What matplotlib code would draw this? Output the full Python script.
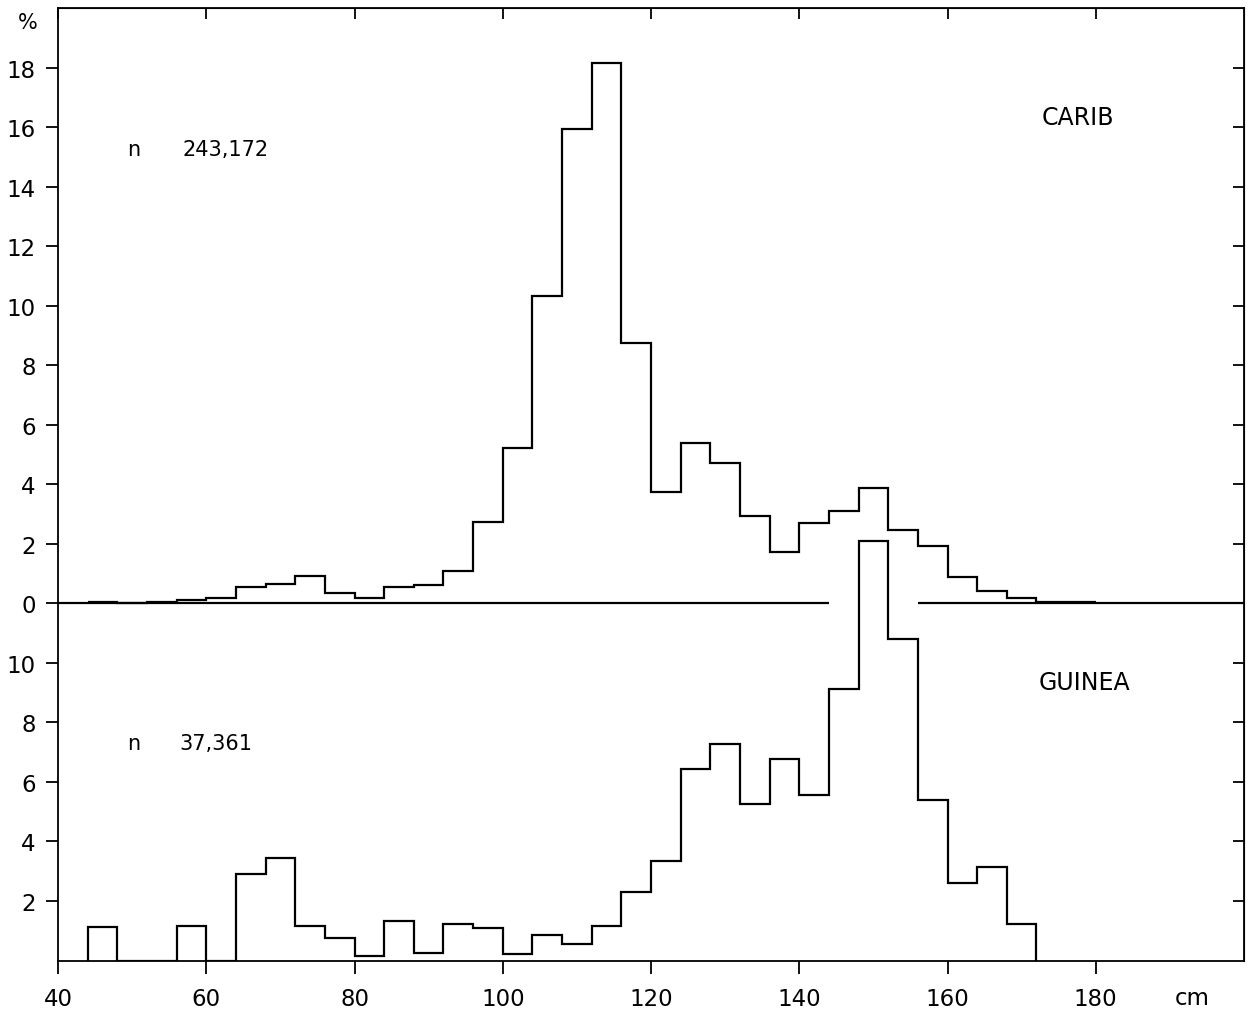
"""Length-frequency histograms, Carib vs Guinea samples (stacked on one frame)."""
import numpy as np
import matplotlib.pyplot as plt

# 4 cm length classes
CARIB_EDGES = np.arange(44, 184, 4)
CARIB_PCT = [0.05, 0.0, 0.03, 0.10, 0.18, 0.56, 0.66, 0.92, 0.33, 0.19,
             0.54, 0.61, 1.07, 2.73, 5.23, 10.32, 15.95, 18.15, 8.75, 3.75,
             5.38, 4.71, 2.93, 1.71, 2.71, 3.11, 3.89, 2.45, 1.93, 0.88,
             0.41, 0.19, 0.06, 0.06]

GUINEA_EDGES = np.arange(44, 176, 4)
GUINEA_PCT = [1.12, 0.0, 0.0, 1.15, 0.0, 2.91, 3.43, 1.15, 0.75, 0.14,
              1.32, 0.25, 1.22, 1.10, 0.21, 0.87, 0.57, 1.17, 2.31, 3.35,
              6.44, 7.28, 5.26, 6.76, 5.55, 9.12, 14.10, 10.80, 5.40, 2.60,
              3.15, 1.23]

CARIB_N = '243,172'
GUINEA_N = '37,361'

# lower panel sits under the upper one; its zero is OFFSET below
OFFSET = 12
UPPER_TICKS = [0, 2, 4, 6, 8, 10, 12, 14, 16, 18]
LOWER_TICKS = [2, 4, 6, 8, 10]
X_TICKS = [40, 60, 80, 100, 120, 140, 160, 180]
ZERO_GAP = (144, 156)  # upper zero line is broken where Guinea peak passes

LW = 1.6
FS = 16.5

fig = plt.figure(figsize=(12.5, 10.12), dpi=100)
ax = fig.add_axes([0.0464, 0.0499, 0.9488, 0.9412])

ax.stairs(CARIB_PCT, CARIB_EDGES, baseline=None, color='black', lw=LW)
ax.stairs(np.array(GUINEA_PCT) - OFFSET, GUINEA_EDGES, baseline=-OFFSET,
          color='black', lw=LW)

# upper baseline with the gap
ax.hlines(0, 40, ZERO_GAP[0], color='black', lw=LW)
ax.hlines(0, ZERO_GAP[1], 200, color='black', lw=LW)

ax.set_xlim(40, 200)
ax.set_ylim(-OFFSET, 20)

yt = [t - OFFSET for t in LOWER_TICKS] + UPPER_TICKS
yl = [str(t) for t in LOWER_TICKS] + [str(t) for t in UPPER_TICKS]
ax.set_yticks(yt)
ax.set_yticklabels(yl)
ax.set_xticks(X_TICKS)

ax.tick_params(axis='both', direction='out', length=9, width=1.3,
               labelsize=FS)
ax.tick_params(axis='y', pad=7)
ax.tick_params(axis='x', pad=10)
for s in ax.spines.values():
    s.set_linewidth(1.3)

# inward ticks on top and right frames
top = ax.secondary_xaxis('top')
top.set_xticks(X_TICKS)
top.tick_params(direction='in', length=8, width=1.3, labeltop=False)
right = ax.secondary_yaxis('right')
right.set_yticks(yt)
right.tick_params(direction='in', length=8, width=1.3, labelright=False)

ax.text(49.3, 15.25, 'n', fontsize=15, va='center', ha='left')
ax.text(56.8, 15.25, CARIB_N, fontsize=15, va='center', ha='left')
ax.text(49.3, -4.7, 'n', fontsize=15, va='center', ha='left')
ax.text(56.4, -4.7, GUINEA_N, fontsize=15, va='center', ha='left')

ax.text(172.7, 16.35, 'CARIB', fontsize=17, va='center', ha='left')
ax.text(172.3, -2.65, 'GUINEA', fontsize=17, va='center', ha='left')

fig.text(28 / 1250, 1 - 23 / 1012, '%', fontsize=15, ha='center',
         va='center')
ax.text(193, -OFFSET - 1.25, 'cm', fontsize=FS, ha='center', va='center')

fig.savefig('out.png', dpi=100, facecolor='white')
